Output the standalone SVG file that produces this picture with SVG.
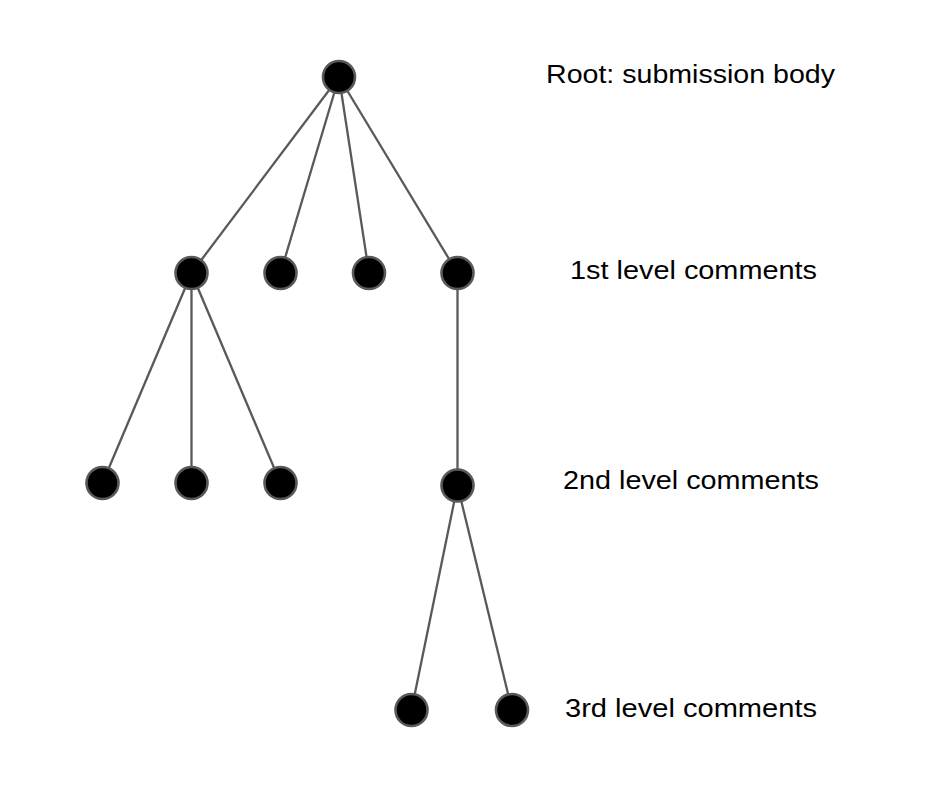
<svg xmlns="http://www.w3.org/2000/svg" width="928" height="788" viewBox="0 0 928 788">
<style>
.n{fill:#000;stroke:#595959;stroke-width:2.6}
.e{stroke:#595959;stroke-width:2.3;fill:none}
.t{font-family:"Liberation Sans",Arial,sans-serif;font-size:26px;fill:#000}
</style>
<rect width="928" height="788" fill="#fff"/>
<g id="connectors">
<line class="e" x1="339" y1="77" x2="191.5" y2="273"/>
<line class="e" x1="339" y1="77" x2="280.5" y2="273"/>
<line class="e" x1="339" y1="77" x2="369" y2="273"/>
<line class="e" x1="339" y1="77" x2="457.5" y2="273"/>
<line class="e" x1="191.5" y1="273" x2="102.5" y2="483"/>
<line class="e" x1="191.5" y1="273" x2="191.5" y2="483"/>
<line class="e" x1="191.5" y1="273" x2="280.5" y2="483"/>
<line class="e" x1="457.5" y1="273" x2="457.5" y2="485.5"/>
<line class="e" x1="457.5" y1="485.5" x2="411.5" y2="710"/>
<line class="e" x1="457.5" y1="485.5" x2="512" y2="710"/>
</g>
<g id="root"><circle class="n" cx="339" cy="77" r="16"/></g>
<g id="c1a"><circle class="n" cx="191.5" cy="273" r="16"/></g>
<g id="c1b"><circle class="n" cx="280.5" cy="273" r="16"/></g>
<g id="c1c"><circle class="n" cx="369" cy="273" r="16"/></g>
<g id="c1d"><circle class="n" cx="457.5" cy="273" r="16"/></g>
<g id="c2a"><circle class="n" cx="102.5" cy="483" r="16"/></g>
<g id="c2b"><circle class="n" cx="191.5" cy="483" r="16"/></g>
<g id="c2c"><circle class="n" cx="280.5" cy="483" r="16"/></g>
<g id="c2d"><circle class="n" cx="457.5" cy="485.5" r="16"/></g>
<g id="c3a"><circle class="n" cx="411.5" cy="710" r="16"/></g>
<g id="c3b"><circle class="n" cx="512" cy="710" r="16"/></g>
<g id="labels">
<text class="t" x="546" y="82.5" textLength="289" lengthAdjust="spacingAndGlyphs">Root: submission body</text>
<text class="t" x="570" y="278.5" textLength="247" lengthAdjust="spacingAndGlyphs">1st level comments</text>
<text class="t" x="563" y="488.5" textLength="256" lengthAdjust="spacingAndGlyphs">2nd level comments</text>
<text class="t" x="565" y="716.5" textLength="252" lengthAdjust="spacingAndGlyphs">3rd level comments</text>
</g>
</svg>
